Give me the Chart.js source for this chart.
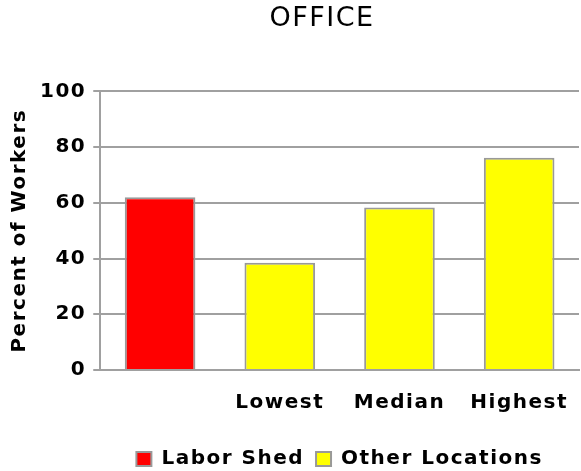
<!DOCTYPE html>
<html>
<head>
<meta charset="utf-8">
<script src="https://cdn.jsdelivr.net/npm/chart.js@4.4.0/dist/chart.umd.min.js"></script>
<style>
  html, body { margin: 0; padding: 0; background: #fff; }
  #wrap { width: 581px; height: 471px; }
</style>
</head>
<body>
<div id="wrap"><canvas id="chart" width="581" height="471"></canvas></div>
<script>
// values
const categories = ['', 'Lowest', 'Median', 'Highest'];
const laborShed = [62, null, null, null];
const otherLocations = [null, 38.5, 58.3, 76.2];
const yTicks = [0, 20, 40, 60, 80, 100];

const FONT = '"DejaVu Sans", Verdana, sans-serif';
const GRID = '#a0a0a0';

// the original text is wider than DejaVu, so space the letters out a little;
// the title also sits a bit right of the canvas centre
const tweaks = {
  id: 'tweaks',
  beforeLayout(chart) { chart.ctx.letterSpacing = '1.5px'; },
  afterLayout(chart) { chart.titleBlock.left += 59; },
  beforeDraw(chart) { chart.ctx.letterSpacing = '1.5px'; }
};

const ctx = document.getElementById('chart').getContext('2d');
new Chart(ctx, {
  type: 'bar',
  data: {
    labels: categories,
    datasets: [{
      label: 'Labor Shed',
      data: laborShed,
      backgroundColor: '#ff0000',
      borderColor: '#999999',
      borderWidth: 2
    }, {
      label: 'Other Locations',
      data: otherLocations,
      backgroundColor: '#ffff00',
      borderColor: '#999999',
      borderWidth: 2
    }]
  },
  options: {
    responsive: false,
    animation: false,
    layout: { padding: { top: 0, right: 0, left: 4, bottom: -8 } },
    datasets: { bar: { barPercentage: 0.59, categoryPercentage: 1 } },
    plugins: {
      title: {
        display: true,
        text: 'OFFICE',
        color: '#000',
        font: { family: FONT, size: 27, weight: 'normal' },
        padding: { top: 3, bottom: 56 }
      },
      legend: {
        position: 'bottom',
        fullSize: false,
        labels: {
          color: '#000',
          font: { family: FONT, size: 20, weight: 'bold' },
          boxWidth: 15,
          boxHeight: 14,
          padding: 12
        }
      },
      tooltip: { enabled: false }
    },
    scales: {
      x: {
        stacked: true,
        grid: { display: false },
        border: { color: GRID, width: 2 },
        ticks: {
          color: '#000',
          font: { family: FONT, size: 20, weight: 'bold' },
          maxRotation: 0,
          padding: 13
        },
        afterFit: (axis) => { axis.height += 9; }
      },
      y: {
        stacked: true,
        min: 0,
        max: 100,
        afterBuildTicks: (axis) => { axis.ticks = yTicks.map(v => ({ value: v })); },
        grid: { color: GRID, lineWidth: 2, tickLength: 7 },
        border: { color: GRID, width: 2 },
        ticks: {
          color: '#000',
          font: { family: FONT, size: 20, weight: 'bold' },
          padding: 7
        },
        title: {
          display: true,
          text: 'Percent of Workers',
          color: '#000',
          font: { family: FONT, size: 20, weight: 'bold' },
          padding: { top: 4, bottom: 1 }
        }
      }
    }
  },
  plugins: [tweaks]
});
</script>
</body>
</html>
